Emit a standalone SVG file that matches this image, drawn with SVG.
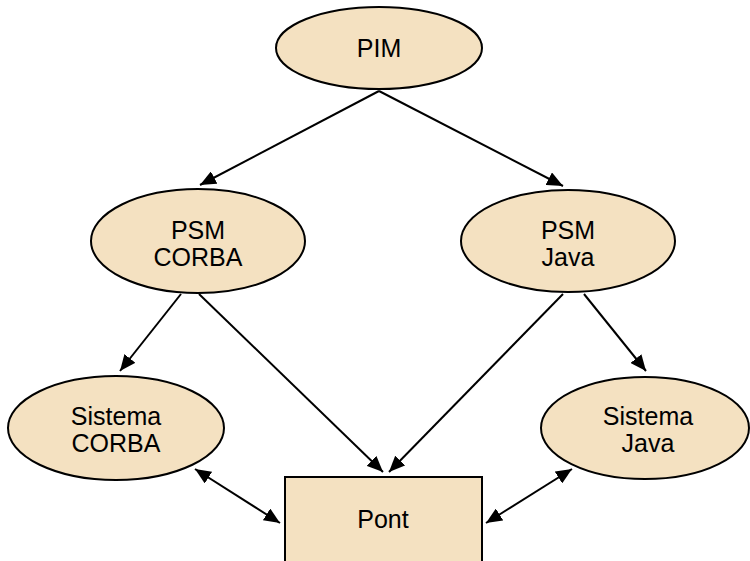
<svg xmlns="http://www.w3.org/2000/svg" width="750" height="561" viewBox="0 0 750 561">
<defs>
<marker id="ah" viewBox="0 0 10 10" refX="10" refY="5" markerWidth="16" markerHeight="14" markerUnits="userSpaceOnUse" orient="auto-start-reverse" preserveAspectRatio="none">
<path d="M0,0 L10,5 L0,10 z" fill="#000"/>
</marker>
<style>
.n{fill:#F4E1C1;stroke:#000;stroke-width:2}
.t{font-family:"Liberation Sans",Arial,sans-serif;font-size:25px;text-anchor:middle;fill:#000}
.c{stroke:#000;stroke-width:2;fill:none}
</style>
</defs>
<rect width="750" height="561" fill="#fff"/>
<g id="connectors">
<line class="c" x1="379" y1="91" x2="200" y2="185" marker-end="url(#ah)"/>
<line class="c" x1="379" y1="91" x2="563" y2="186" marker-end="url(#ah)"/>
<line class="c" x1="181" y1="294" x2="120" y2="371" marker-end="url(#ah)"/>
<line class="c" x1="199" y1="294" x2="383" y2="472" marker-end="url(#ah)"/>
<line class="c" x1="563" y1="294" x2="389" y2="472" marker-end="url(#ah)"/>
<line class="c" x1="584" y1="294" x2="646" y2="371" marker-end="url(#ah)"/>
<line class="c" x1="195" y1="469" x2="280" y2="523" marker-start="url(#ah)" marker-end="url(#ah)"/>
<line class="c" x1="572" y1="469" x2="486" y2="523" marker-start="url(#ah)" marker-end="url(#ah)"/>
</g>
<g id="pim">
<ellipse class="n" cx="379" cy="48" rx="103" ry="41"/>
<text class="t" x="379" y="57">PIM</text>
</g>
<g id="psm-corba">
<ellipse class="n" cx="198" cy="241" rx="107" ry="52"/>
<text class="t" x="198" y="239">PSM</text>
<text class="t" x="198" y="266">CORBA</text>
</g>
<g id="psm-java">
<ellipse class="n" cx="568" cy="241" rx="107" ry="51"/>
<text class="t" x="568" y="239">PSM</text>
<text class="t" x="568" y="266">Java</text>
</g>
<g id="sistema-corba">
<ellipse class="n" cx="116" cy="428" rx="108" ry="52"/>
<text class="t" x="116" y="425">Sistema</text>
<text class="t" x="116" y="452">CORBA</text>
</g>
<g id="sistema-java">
<ellipse class="n" cx="645" cy="428" rx="104" ry="51"/>
<text class="t" x="648" y="425">Sistema</text>
<text class="t" x="648" y="452">Java</text>
</g>
<g id="pont">
<rect class="n" x="285" y="477" width="197" height="100"/>
<text class="t" x="383" y="528">Pont</text>
</g>
</svg>
